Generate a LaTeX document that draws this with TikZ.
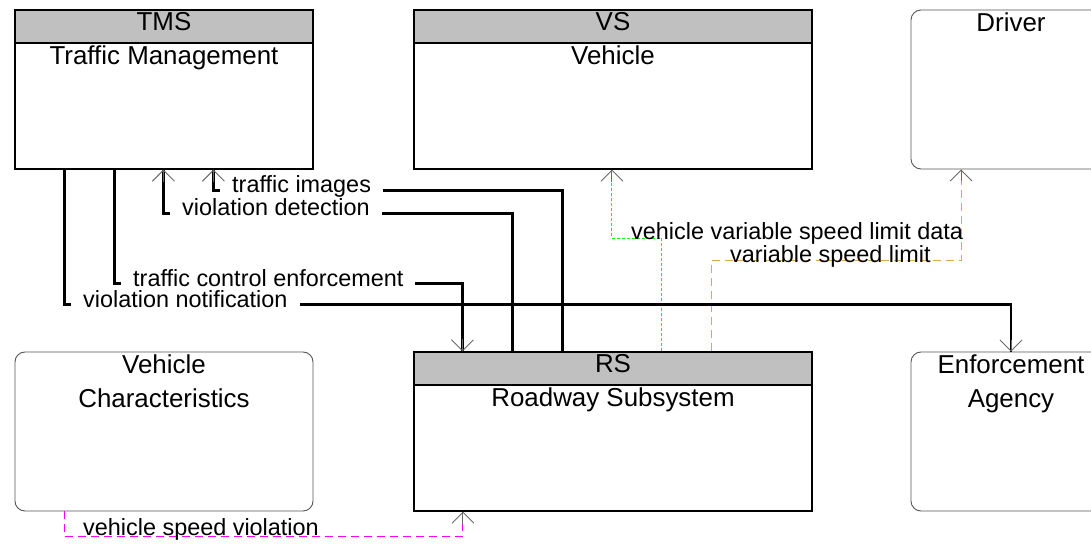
\documentclass[tikz,border=0pt]{standalone}
\usepackage{fontspec}
\setmainfont{Liberation Sans}
\usepackage{xcolor}
\usetikzlibrary{arrows.meta, calc}
\definecolor{headgray}{RGB}{192, 192, 192}
\definecolor{tipgray}{RGB}{105, 105, 105}
\definecolor{roundgray}{RGB}{85, 85, 85}
\definecolor{flowgreen}{RGB}{0, 255, 0}
\definecolor{flowamber}{RGB}{220, 168, 80}
\definecolor{flowmagenta}{RGB}{255, 0, 255}

\begin{document}
\begin{tikzpicture}[
    x=1bp, y=-1bp,
    font=\fontsize{23.5}{28}\selectfont,
    subsys/.style={rectangle, draw=black, line width=1.2bp,
                   minimum width=398bp, minimum height=159bp, inner sep=0pt,
                   path picture={
                     \fill[headgray]
                       (path picture bounding box.north west) rectangle
                       ([yshift=-33bp]path picture bounding box.north east);
                     \draw[black, line width=1.2bp]
                       ([yshift=-33bp]path picture bounding box.north west) --
                       ([yshift=-33bp]path picture bounding box.north east);
                   }},
    terminal/.style={rectangle, rounded corners=10bp, draw=roundgray, line width=0.9bp,
                     minimum width=298bp, minimum height=159bp, inner sep=0pt},
    boxtext/.style={anchor=base, inner sep=0pt, font=\fontsize{26}{30}\selectfont},
    sigline/.style={line width=2.8bp, draw=black},
    greenflow/.style={line width=1bp, color=flowgreen, dash pattern=on 3bp off 2bp},
    amberflow/.style={line width=1bp, color=flowamber, dash pattern=on 8bp off 5bp},
    magentaflow/.style={line width=1bp, color=flowmagenta, dash pattern=on 8bp off 5bp},
    tipmark/.style={draw=tipgray, line width=0.9bp, -{Straight Barb[length=11bp, width=22bp]}},
    siglabel/.style={anchor=mid west, fill=white, inner xsep=12bp, inner ysep=2bp},
    flowlabel/.style={anchor=mid west, inner sep=0pt, text=black},
]

\clip (0,0) rectangle (1091,545);

% ============================================================
% SUBSYSTEMS AND TERMINATORS
% ============================================================
\node[subsys, minimum width=298bp] (tms) at (164,89.5) {};
\node[boxtext] (tmsid)   at ($(tms.north)+(0,21)$) {TMS};
\node[boxtext] (tmsname) at ($(tms.north)+(0,55)$) {Traffic Management};

\node[subsys] (vs) at (613,89.5) {};
\node[boxtext] (vsid)   at ($(vs.north)+(0,21)$) {VS};
\node[boxtext] (vsname) at ($(vs.north)+(0,55)$) {Vehicle};

\node[terminal, minimum width=200bp] (drv) at (1011,89.5) {};
\node[boxtext] (drvname) at ($(drv.north)+(0,22)$) {Driver};

\node[terminal] (vc) at (164,431.5) {};
\node[boxtext] (vcname1) at ($(vc.north)+(0,22)$) {Vehicle};
\node[boxtext] (vcname2) at ($(vc.north)+(0,56)$) {Characteristics};

\node[subsys] (rs) at (613,431.5) {};
\node[boxtext] (rsid)   at ($(rs.north)+(0,21)$) {RS};
\node[boxtext] (rsname) at ($(rs.north)+(0,55)$) {Roadway Subsystem};

\node[terminal, minimum width=200bp] (enf) at (1011,431.5) {};
\node[boxtext] (enfname1) at ($(enf.north)+(0,22)$) {Enforcement};
\node[boxtext] (enfname2) at ($(enf.north)+(0,56)$) {Agency};

% ============================================================
% FLOWS (dashed), kept on pixel centres
% ============================================================
\draw[greenflow] ($(rs.north west)+(248.5,0)$) |- ($(vs.south west)+(198.5,68.5)$)
    -- ($(vs.south west)+(198.5,0)$);
\draw[amberflow] ($(rs.north west)+(298.5,0)$) |- ($(drv.south west)+(50.5,91.5)$)
    -- ($(drv.south west)+(50.5,0)$);
\draw[magentaflow] ($(vc.south west)+(49.5,0)$) |- ($(rs.south west)+(49.5,24.5)$)
    -- ($(rs.south west)+(49.5,0)$);

\node[flowlabel] (lblvsld)  at (631,237) {vehicle variable speed limit data};
\node[flowlabel] (lblvsl)   at (730,260) {variable speed limit};
\node[flowlabel] (lblspeed) at (83,533)  {vehicle speed violation};

% ============================================================
% FLOWS (solid)
% ============================================================
\draw[sigline] ($(rs.north west)+(149,0)$) |- ($(tms.south west)+(199,21)$)
    -- ($(tms.south west)+(199,0)$);
\draw[sigline] ($(rs.north west)+(99,0)$) |- ($(tms.south west)+(149,44)$)
    -- ($(tms.south west)+(149,0)$);
\draw[sigline] ($(tms.south west)+(100,0)$) |- ($(rs.north west)+(49,-68)$)
    -- ($(rs.north west)+(49,0)$);
\draw[sigline] ($(tms.south west)+(50,0)$) |- ($(enf.north)+(0,-47)$)
    -- (enf.north);

\node[siglabel] (lblimages)  at (220,190) {traffic images};
\node[siglabel] (lbldetect)  at (170,213) {violation detection};
\node[siglabel] (lblenforce) at (121,284) {traffic control enforcement};
\node[siglabel] (lblnotify)  at (71,305)  {violation notification};

% ============================================================
% ARROW TIPS (open, gray)
% ============================================================
\draw[tipmark] ($(tms.south west)+(199,12)$) -- ($(tms.south west)+(199,0)$);
\draw[tipmark] ($(tms.south west)+(149,12)$) -- ($(tms.south west)+(149,0)$);
\draw[tipmark] ($(rs.north west)+(49,-12)$)  -- ($(rs.north west)+(49,0)$);
\draw[tipmark] ($(enf.north)+(0,-12)$)       -- (enf.north);
\draw[tipmark] ($(vs.south west)+(198.5,12)$) -- ($(vs.south west)+(198.5,0)$);
\draw[tipmark] ($(drv.south west)+(50.5,12)$) -- ($(drv.south west)+(50.5,0)$);
\draw[tipmark] ($(rs.south west)+(49.5,12)$)  -- ($(rs.south west)+(49.5,0)$);

\end{tikzpicture}
\end{document}
